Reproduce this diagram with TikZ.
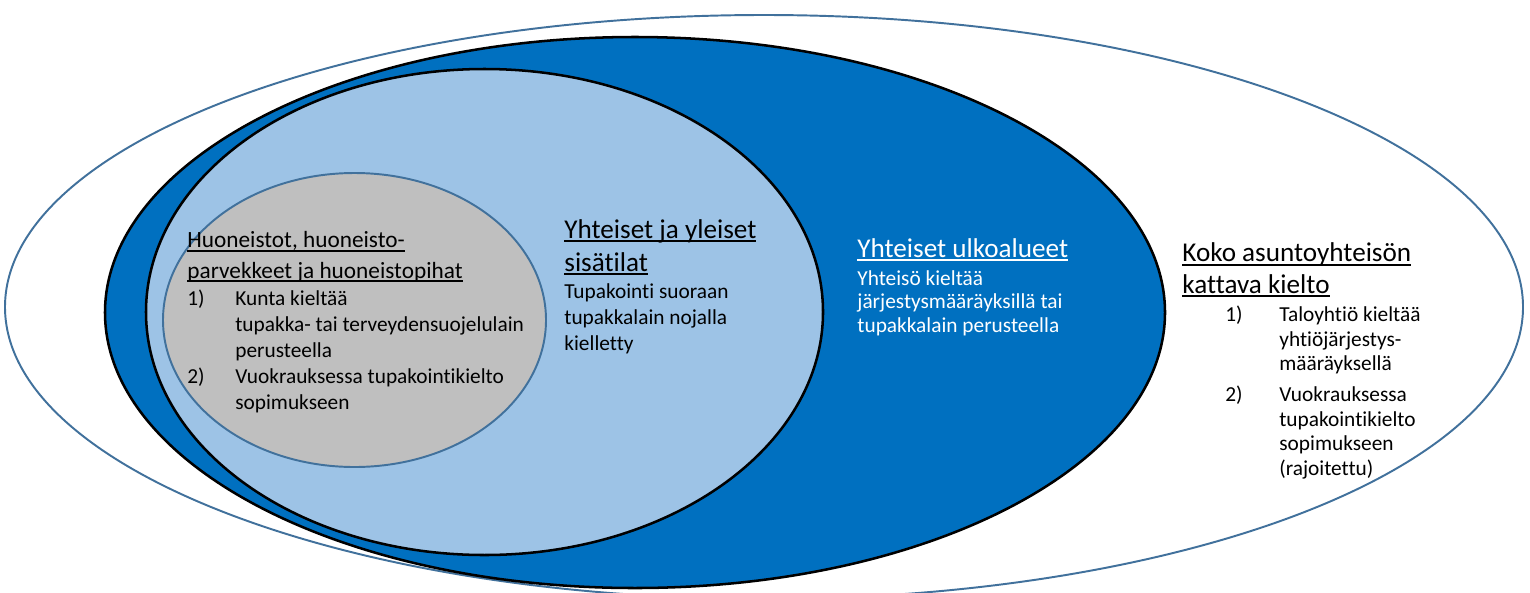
\documentclass[tikz,border=0pt]{standalone}
\usepackage{fontspec}
\setmainfont{Carlito}[Ligatures=NoCommon]
\usepackage{xcolor}
\definecolor{rimBlue}{HTML}{41719C}
\definecolor{yardBlue}{HTML}{0070C0}
\definecolor{roomBlue}{HTML}{9DC3E6}
\definecolor{flatGray}{HTML}{BFBFBF}
\newsavebox{\ulBox}
\newcommand{\uLine}[1]{\sbox{\ulBox}{#1}\rlap{\rule[-2pt]{\wd\ulBox}{0.75pt}}\usebox{\ulBox}}
\newcommand{\numBox}[2][24.7pt]{\makebox[#1][l]{#2}}

\begin{document}
\begin{tikzpicture}[x=0.5155pt, y=-0.5155pt,
	title/.style={anchor=base west, inner sep=0pt, align=left, font=\fontsize{14}{17}\selectfont},
	body/.style={anchor=base west, inner sep=0pt, align=left, font=\fontsize{11}{13.4}\selectfont}]
	\clip (0,0) rectangle (1530,592);
	
	% rings, outermost first
	\draw[rimBlue, line width=1pt, fill=white]	(764,307) ellipse [x radius=759, y radius=292];
	\draw[black, line width=1.3pt, fill=yardBlue]	(635,312.5) ellipse [x radius=530, y radius=275.5];
	\draw[black, line width=1.3pt, fill=roomBlue]	(484.5,312) ellipse [x radius=338.5, y radius=243];
	\draw[rimBlue, line width=1pt, fill=flatGray]	(354.5,320) ellipse [x radius=191.5, y radius=147];
	
	% text nodes sit on the baseline of their last line
	% huoneistot
	\node[title, font=\fontsize{12}{15.5}\selectfont] (flatTitle) at (187,278) {\uLine{Huoneistot, huoneisto-}\\\uLine{parvekkeet ja huoneistopihat}};
	\node[body] (flatList) at (187,409) {\numBox{1)}Kunta kieltää\\\hspace*{24.7pt}tupakka- tai terveydensuojelulain\\\hspace*{24.7pt}perusteella\\\numBox{2)}Vuokrauksessa tupakointikielto\\\hspace*{24.7pt}sopimukseen};
	
	% sisätilat
	\node[title] (roomTitle) at (564,271) {\uLine{Yhteiset ja yleiset}\\\uLine{sisätilat}};
	\node[body] (roomText) at (564,350) {Tupakointi suoraan\\tupakkalain nojalla\\kielletty};
	
	% ulkoalueet
	\node[title, text=white] (yardTitle) at (857,257) {\uLine{Yhteiset ulkoalueet}};
	\node[body, text=white, font=\fontsize{11}{12.1}\selectfont] (yardText) at (857,332) {Yhteisö kieltää\\järjestysmääräyksillä tai\\tupakkalain perusteella};
	
	% koko yhteisö
	\node[title, font=\fontsize{14}{16}\selectfont] (wholeTitle) at (1182,293) {\uLine{Koko asuntoyhteisön}\\\uLine{kattava kielto}};
	\node[body, font=\fontsize{11}{12.6}\selectfont] (wholeList) at (1225,475) {\numBox[27.8pt]{1)}Taloyhtiö kieltää\\\hspace*{27.8pt}yhtiöjärjestys-\\\hspace*{27.8pt}määräyksellä\\[3.5pt]\numBox[27.8pt]{2)}Vuokrauksessa\\\hspace*{27.8pt}tupakointikielto\\\hspace*{27.8pt}sopimukseen\\\hspace*{27.8pt}(rajoitettu)};
\end{tikzpicture}
\end{document}
